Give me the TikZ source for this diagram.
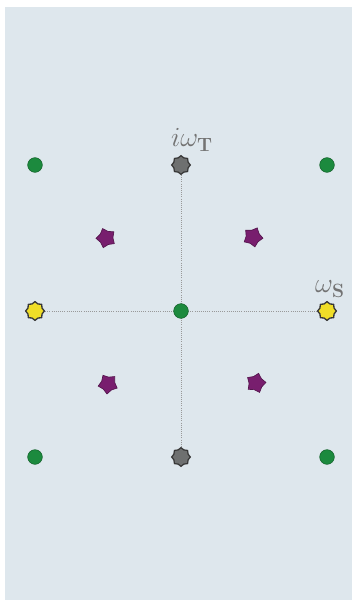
\documentclass[tikz,border=0pt]{standalone}
\usetikzlibrary{shapes.geometric}

\definecolor{paper}{RGB}{222,231,237}
\definecolor{dotgreen}{RGB}{28,138,62}
\definecolor{gearedge}{RGB}{55,55,55}
\definecolor{geargray}{RGB}{110,112,112}
\definecolor{gearyellow}{RGB}{240,222,40}
\definecolor{blobpurple}{RGB}{120,30,110}
\definecolor{labelgray}{RGB}{115,115,115}

\tikzset{
  greendot/.style={circle, fill=dotgreen, draw=dotgreen!70!black, line width=0.4pt, minimum size=11pt, inner sep=0pt},
  graygear/.style={star, star points=8, star point ratio=1.22, fill=geargray, draw=gearedge, line width=0.9pt, minimum size=14pt, inner sep=0pt},
  yellowgear/.style={star, star points=8, star point ratio=1.22, fill=gearyellow, draw=gearedge, line width=1pt, minimum size=14pt, inner sep=0pt},
  purpleblob/.style={star, star points=5, star point ratio=1.45, fill=blobpurple, draw=blobpurple!70!black, line width=0.5pt, minimum size=15pt, inner sep=0pt},
  axisline/.style={draw=gray!80, densely dotted, line width=0.6pt},
  omegalabel/.style={text=labelgray, font=\huge}
}

\begin{document}
\begin{tikzpicture}[x=0.75pt,y=0.75pt,yscale=-1,xscale=1]
\useasboundingbox (0,0) rectangle (357,606);

%Shape: Rectangle (paper)
\fill [paper] (5,7) rectangle (352,600);

% Markers on the axes
\node [yellowgear] (sl) at (35,311) {};
\node [yellowgear] (sr) at (327,311) {};
\node [graygear] (tt) at (181,165) {};
\node [graygear] (tb) at (181,457) {};

% Dotted axes
\draw [axisline] (sl) -- (sr);
\draw [axisline] (tt) -- (tb);

% Green dots
\node [greendot] (g0) at (181,311) {};
\node [greendot] (g1) at (35,165) {};
\node [greendot] (g2) at (327,165) {};
\node [greendot] (g3) at (35,457) {};
\node [greendot] (g4) at (327,457) {};

% Purple blobs
\node [purpleblob, rotate=20] (p1) at (106,238) {};
\node [purpleblob, rotate=-25] (p2) at (253,237) {};
\node [purpleblob, rotate=30] (p3) at (108,384) {};
\node [purpleblob, rotate=-15] (p4) at (256,383) {};

% Labels
\node [omegalabel] (lt) at (192,140) {$i\omega_{\mathbf{T}}$};
\node [omegalabel] (ls) at (330,289) {$\omega_{\mathbf{S}}$};

\end{tikzpicture}
\end{document}
